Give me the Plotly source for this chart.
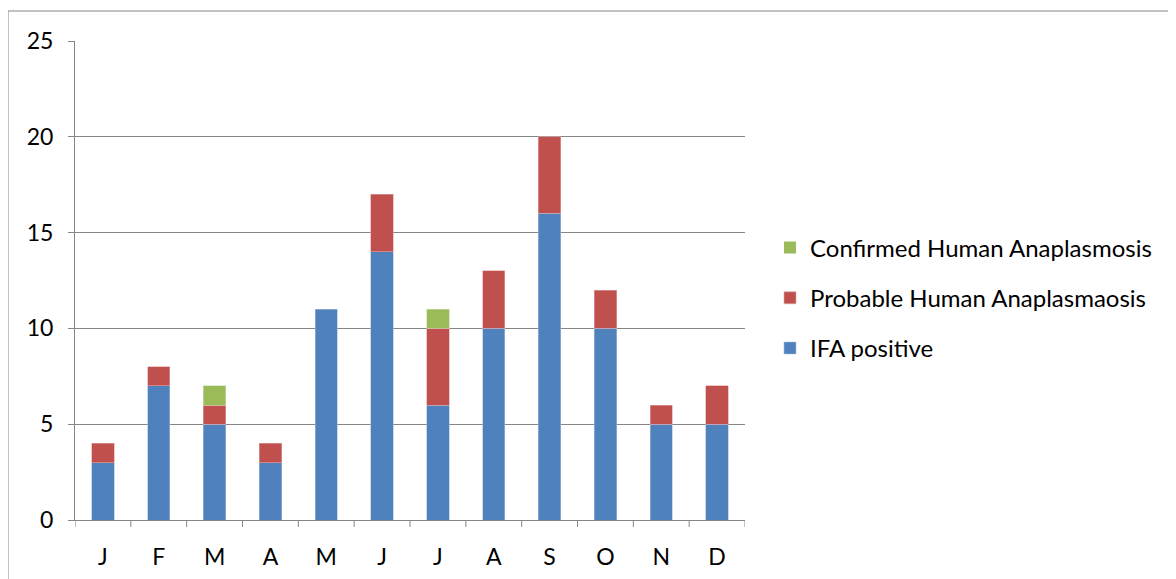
import plotly.graph_objects as go

months = ["J", "F", "M", "A", "M", "J", "J", "A", "S", "O", "N", "D"]
ifa_positive = [3, 7, 5, 3, 11, 14, 6, 10, 16, 10, 5, 5]
probable = [1, 1, 1, 1, 0, 3, 4, 3, 4, 2, 1, 2]
confirmed = [0, 0, 1, 0, 0, 0, 1, 0, 0, 0, 0, 0]
y_ticks = [0, 5, 10, 15, 20, 25]

x_idx = list(range(len(months)))
FONT = "Lato"
OFF = 8  # page body margin

# plot area in window pixels
PL, PR, PT, PB = 75, 745, 41, 520
W, H = 1176 - OFF, 579 - OFF
PW, PH = PR - PL, PB - PT


def lw(vals):
    return [0.6 if v else 0 for v in vals]


fig = go.Figure()
fig.add_trace(go.Bar(x=x_idx, y=ifa_positive, name="IFA positive", legendgroup="a",
                     legendrank=3,
                     marker=dict(color="#4F81BD", line=dict(color="#A7BFDE", width=lw(ifa_positive)))))
fig.add_trace(go.Bar(x=x_idx, y=probable, name="Probable Human Anaplasmaosis", legendgroup="b",
                     legendrank=2,
                     marker=dict(color="#C0504D", line=dict(color="#DFA7A6", width=lw(probable)))))
fig.add_trace(go.Bar(x=x_idx, y=confirmed, name="Confirmed Human Anaplasmosis", legendgroup="c",
                     legendrank=1,
                     marker=dict(color="#9BBB59", line=dict(color="#CDDDAC", width=lw(confirmed)))))

fig.update_layout(
    width=W, height=H,
    barmode="stack", bargap=0.6,
    paper_bgcolor="white", plot_bgcolor="white",
    margin=dict(l=PL - OFF, r=W - (PR - OFF), t=PT - OFF, b=H - (PB - OFF), autoexpand=False),
    font=dict(family=FONT, size=23, color="black"),
    legend=dict(traceorder="grouped", x=1 + 25 / PW, xanchor="left",
                y=(PB - 298) / PH, yanchor="middle", font=dict(size=24), itemwidth=30,
                tracegroupgap=16, bgcolor="rgba(0,0,0,0)"),
    xaxis=dict(tickmode="array", tickvals=x_idx, ticktext=months,
               range=[-0.5, 11.5], showgrid=False, showline=True,
               linecolor="#868686", linewidth=1, ticks="",
               ticklabelstandoff=16, zeroline=False, automargin=False),
    yaxis=dict(range=[0, 25], tickvals=y_ticks, showgrid=True,
               gridcolor="#868686", gridwidth=1, showline=True,
               linecolor="#868686", linewidth=1, ticks="outside",
               ticklen=6, tickcolor="#868686", ticklabelstandoff=10,
               zeroline=False, automargin=False),
)

# boundary ticks between categories
for i in range(13):
    fig.add_shape(type="line", xref="x", yref="paper",
                  x0=i - 0.5, x1=i - 0.5, y0=0, y1=-7 / PH,
                  line=dict(color="#868686", width=1))

# outer chart border
fig.add_shape(type="rect", xref="paper", yref="paper",
              x0=(8 - PL) / PW, x1=(1190 - PL) / PW,
              y0=(PB - 600) / PH, y1=(PB - 11) / PH,
              line=dict(color="#868686", width=1), fillcolor="rgba(0,0,0,0)")

fig.write_html("out.html")
